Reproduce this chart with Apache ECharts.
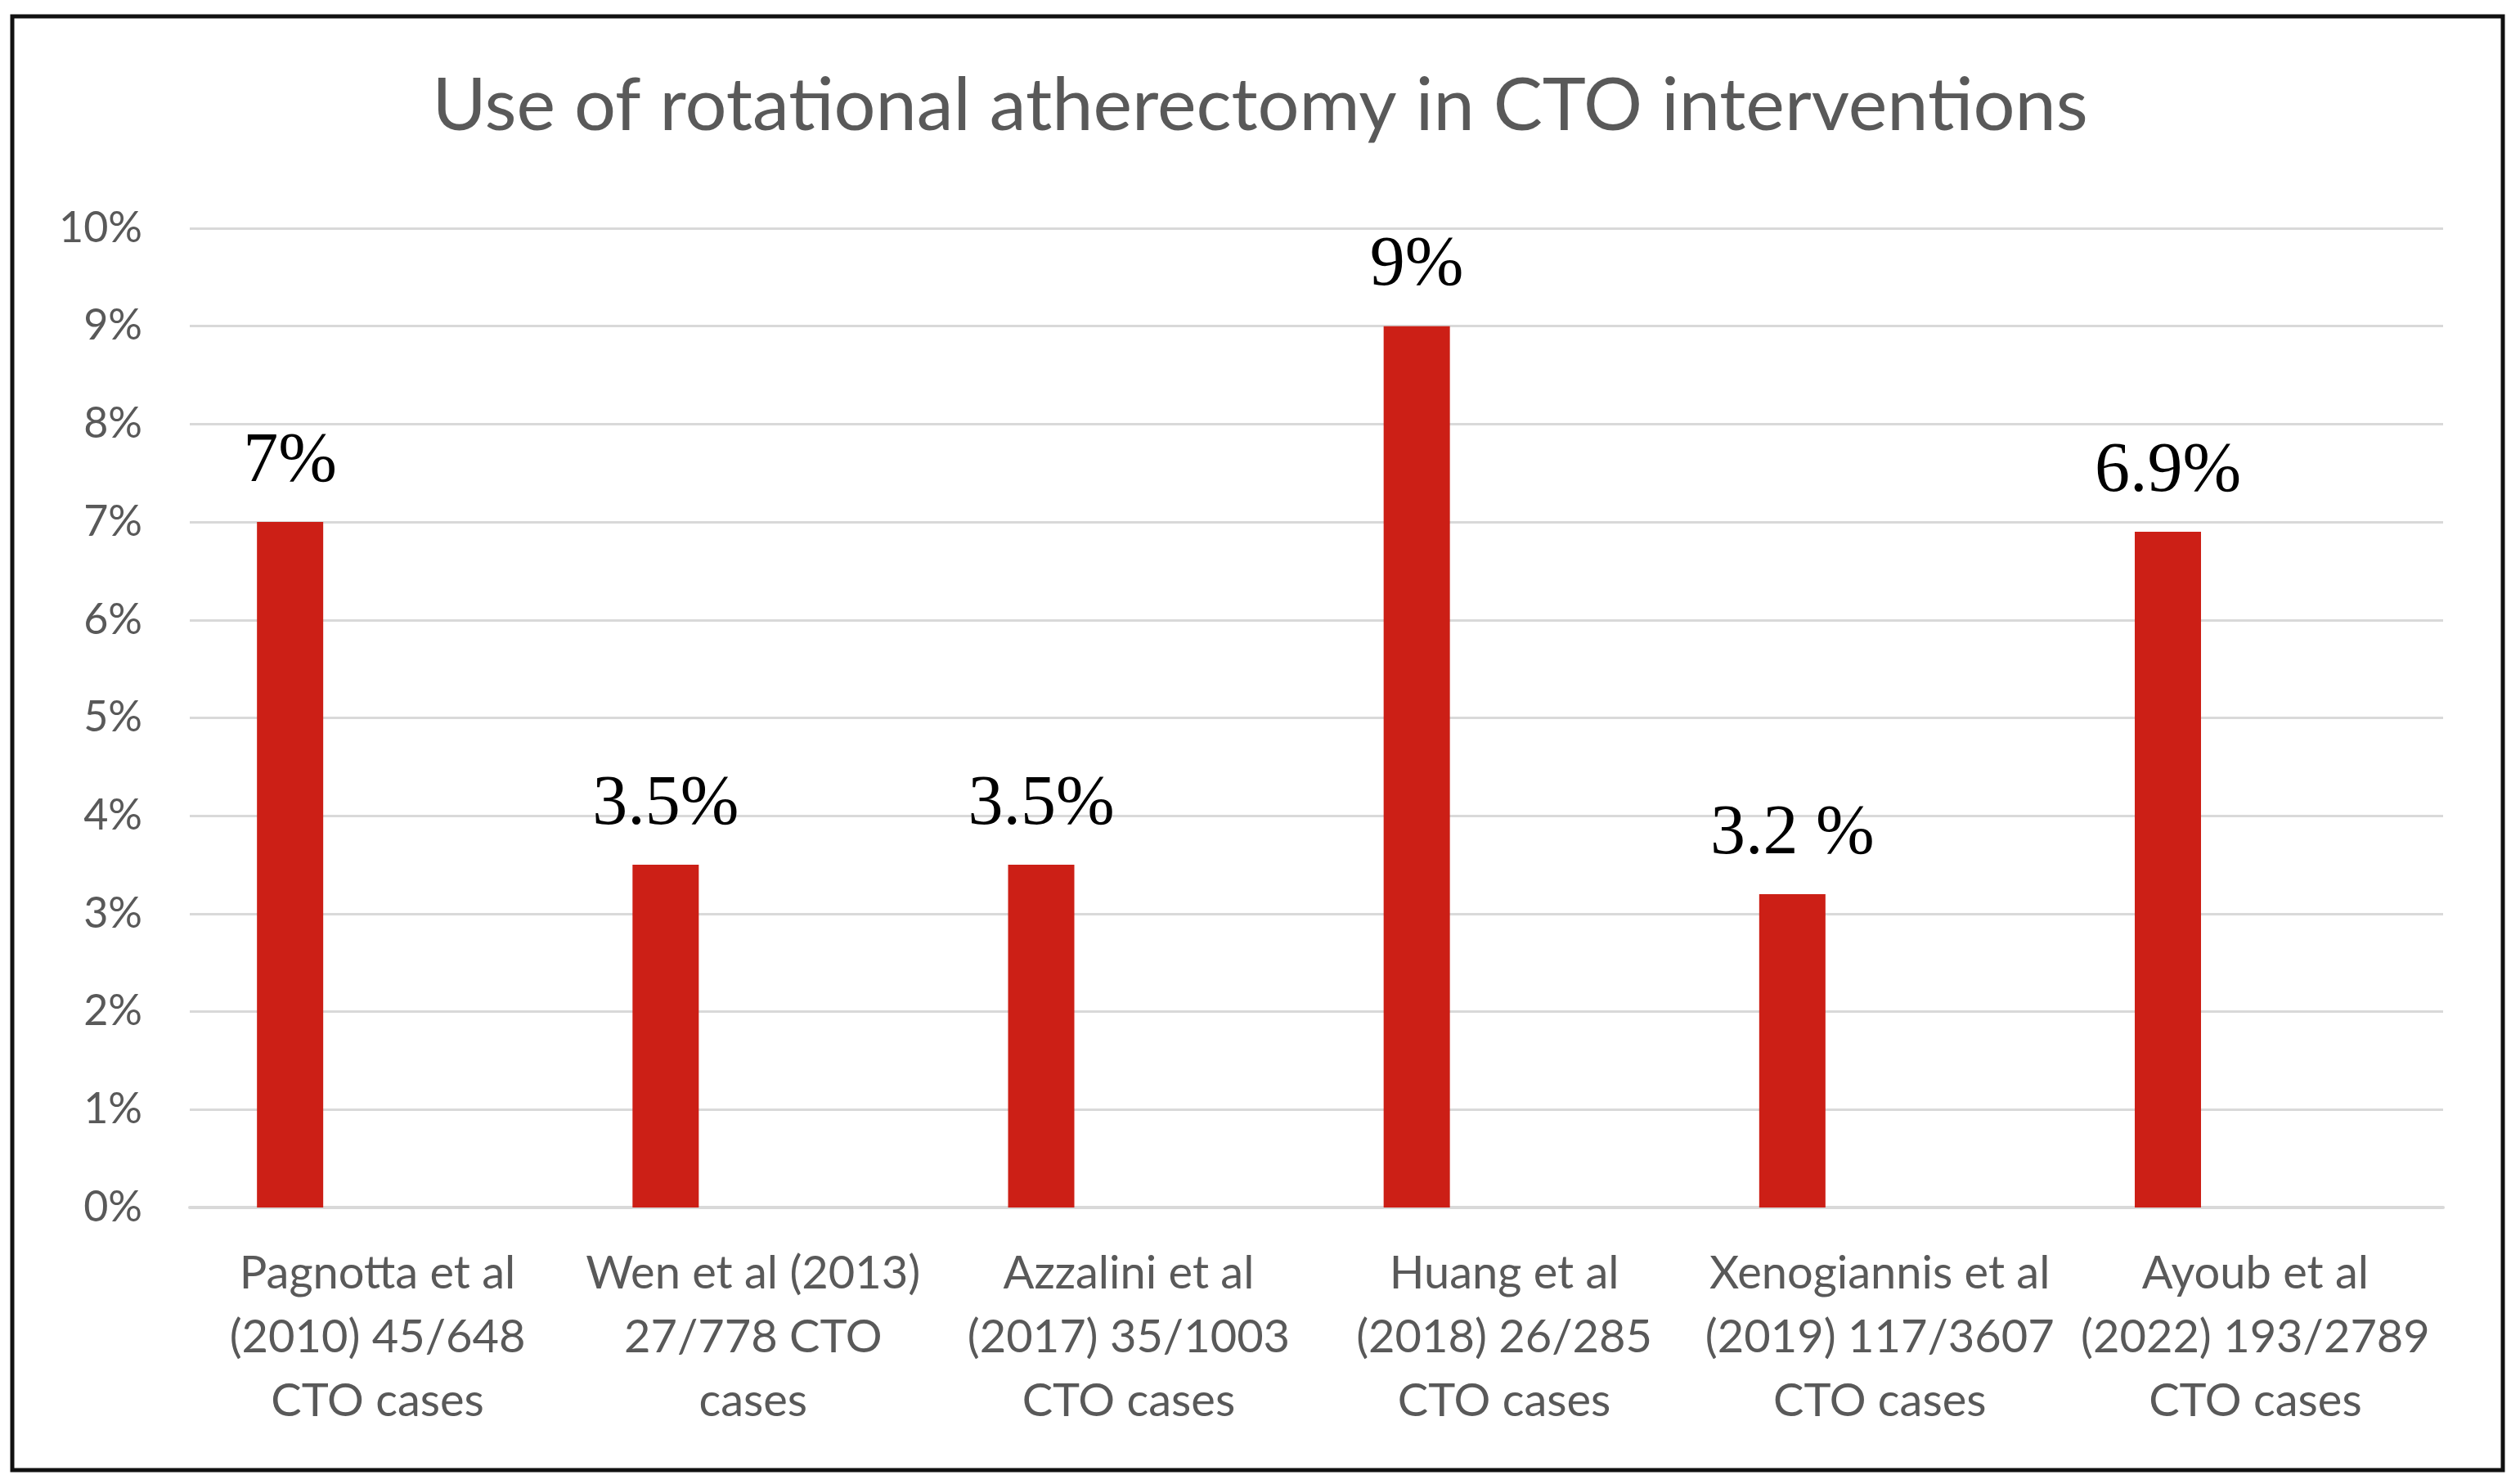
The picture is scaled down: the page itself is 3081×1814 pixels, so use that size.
<!DOCTYPE html>
<html>
<head>
<meta charset="utf-8">
<script src="https://cdn.jsdelivr.net/npm/echarts@6/dist/echarts.min.js"></script>
<style>
html,body{margin:0;padding:0;background:#fff;}
#chart{width:3081px;height:1814px;}
</style>
</head>
<body>
<div id="chart"></div>
<script>
const titleText = 'Use of rotational atherectomy in CTO interventions';
const categories = [
  'Pagnotta et al\n(2010) 45/648\nCTO cases',
  'Wen et al (2013)\n27/778 CTO\ncases',
  'Azzalini et al\n(2017) 35/1003\nCTO cases',
  'Huang et al\n(2018) 26/285\nCTO cases',
  'Xenogiannis et al\n(2019) 117/3607\nCTO cases',
  'Ayoub et al\n(2022) 193/2789\nCTO cases'
];
const values = [7, 3.5, 3.5, 9, 3.2, 6.9];
const valueLabels = ['7%', '3.5%', '3.5%', '9%', '3.2 %', '6.9%'];
const emptySeries = [null, null, null, null, null, null];
const yMin = 0, yMax = 10, yStep = 1;

const chart = echarts.init(document.getElementById('chart'), null, {renderer: 'canvas'});
chart.setOption({
  backgroundColor: '#ffffff',
  animation: false,
  title: {
    text: titleText,
    left: 'center',
    top: 80,
    textStyle: {fontFamily: 'Lato', fontWeight: 'normal', fontSize: 90, color: '#595959'}
  },
  graphic: [{
    type: 'rect',
    shape: {x: 15, y: 20, width: 3045, height: 1777},
    style: {fill: 'none', stroke: '#111', lineWidth: 5},
    silent: true, z: 100
  }],
  grid: {left: 232, right: 94, top: 279, bottom: 338, containLabel: false},
  xAxis: {
    type: 'category',
    data: categories,
    axisLine: {lineStyle: {color: '#d9d9d9', width: 4}},
    axisTick: {show: false},
    axisLabel: {
      interval: 0,
      fontFamily: 'Lato', fontSize: 56, color: '#595959',
      lineHeight: 78, margin: 42
    }
  },
  yAxis: {
    type: 'value',
    min: yMin, max: yMax, interval: yStep,
    axisLine: {show: false},
    axisTick: {show: false},
    splitLine: {lineStyle: {color: '#d9d9d9', width: 3}},
    axisLabel: {
      formatter: '{value}%',
      fontFamily: 'Lato', fontSize: 52, color: '#595959', margin: 58
    }
  },
  series: [{
    type: 'bar',
    data: values,
    barWidth: 81,
    barGap: '164%',
    itemStyle: {color: '#cc1f16'},
    label: {
      show: true,
      position: 'top',
      distance: 30,
      formatter: p => valueLabels[p.dataIndex],
      fontFamily: 'Liberation Serif', fontSize: 86, color: '#000'
    }
  }, {
    type: 'bar',
    data: emptySeries,
    barWidth: 81,
    itemStyle: {color: '#cc1f16'}
  }]
});
</script>
</body>
</html>
